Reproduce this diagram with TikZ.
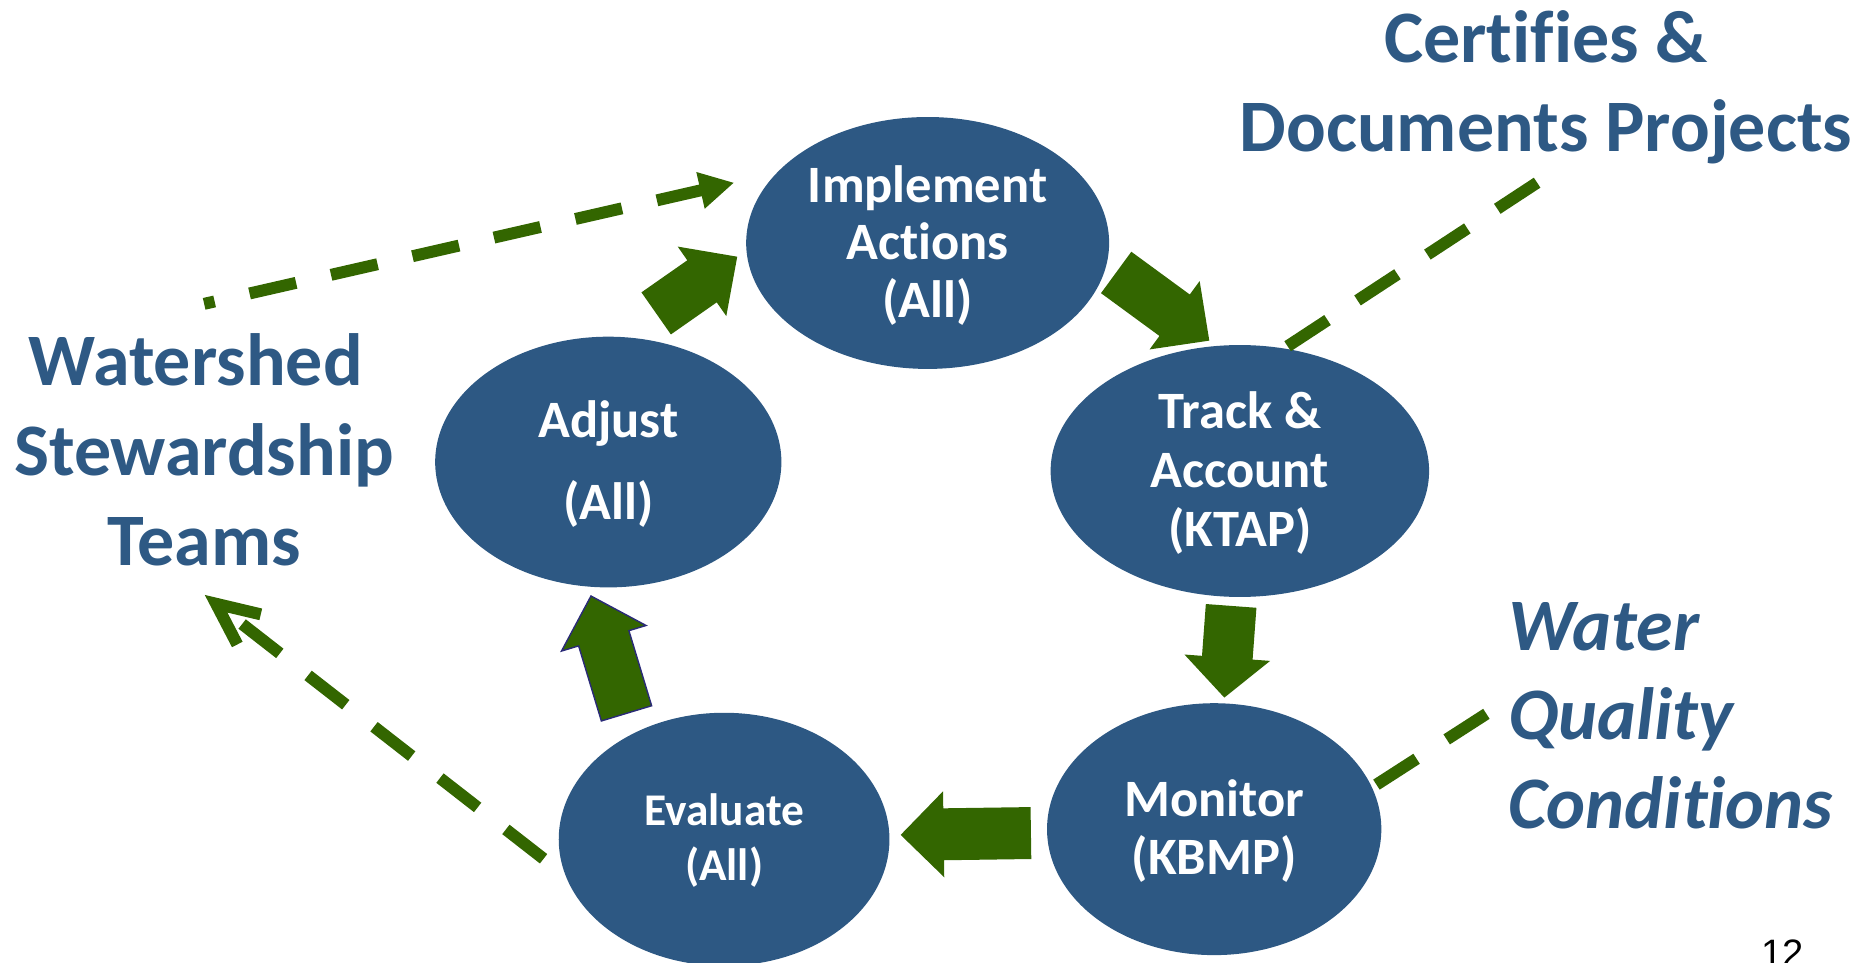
\documentclass[tikz,border=0pt]{standalone}
\usepackage{fontspec}
\setmainfont{Carlito}[Ligatures=NoCommon]
\newfontfamily\pagenumfont{Liberation Sans}
\usetikzlibrary{calc,shapes.geometric,arrows.meta}
\definecolor{cycblue}{HTML}{2D5883}
\definecolor{txtblue}{HTML}{2E5984}
\definecolor{arrgreen}{HTML}{336600}
\definecolor{outlinenavy}{HTML}{2A2A78}

% block arrow: [options]{start}{tip}{half shaft width}{half head width}{head length}
\newcommand\blockarrow[6][]{%
  \coordinate (bas) at (#2);
  \coordinate (bae) at (#3);
  \coordinate (bab) at ($(bae)!#6!(bas)$);
  \fill[arrgreen,#1] ($(bas)!#4!90:(bae)$) -- ($(bab)!#4!90:(bae)$) -- ($(bab)!#5!90:(bae)$)
     -- (bae) -- ($(bab)!#5!-90:(bae)$) -- ($(bab)!#4!-90:(bae)$) -- ($(bas)!#4!-90:(bae)$) -- cycle;
}
% move a text block down by half of #1 inside its node (shrinks its depth)
\newcommand\nudgedown[2]{\raisebox{0pt}[\height][\dimexpr\depth-#1\relax]{#2}}

\begin{document}
\begin{tikzpicture}[x=0.6pt,y=-0.6pt,
  cyc/.style={ellipse, fill=cycblue, text=white, inner sep=0pt},
  outer/.style={text=txtblue, inner sep=0pt},
  dashline/.style={draw=arrgreen, line width=6pt, dash pattern=on 24pt off 18pt},
]
\useasboundingbox (0,0) rectangle (1568,806);

% cycle ellipses
\node[cyc, minimum width=182.4pt, minimum height=126.6pt,
      font=\bfseries\fontsize{26.4}{29.1}\selectfont] (impl) at (777,203.5)
  {\nudgedown{5.4pt}{\begin{tabular}{@{}c@{}}Implement\\Actions\\(All)\end{tabular}}};
\node[cyc, minimum width=174pt, minimum height=126pt,
      font=\bfseries\fontsize{26.4}{41.2}\selectfont] (adj) at (509.5,387)
  {\begin{tabular}{@{}c@{}}Adjust\\(All)\end{tabular}};
\node[cyc, minimum width=190.2pt, minimum height=126.6pt,
      font=\bfseries\fontsize{26.4}{29.55}\selectfont] (track) at (1038.5,394.5)
  {\nudgedown{4.8pt}{\begin{tabular}{@{}c@{}}Track \&\\Account\\(KTAP)\end{tabular}}};
\node[cyc, minimum width=168pt, minimum height=126.6pt,
      font=\bfseries\fontsize{26.4}{29.3}\selectfont] (mon) at (1017,694.5)
  {\nudgedown{4.8pt}{\begin{tabular}{@{}c@{}}Monitor\\(KBMP)\end{tabular}}};
\node[cyc, minimum width=166.2pt, minimum height=127.2pt,
      font=\bfseries\fontsize{22.8}{27.6}\selectfont] (eval) at (606.5,703)
  {\nudgedown{2.4pt}{\begin{tabular}{@{}c@{}}Evaluate\\(All)\end{tabular}}};

% outer labels
\node[outer, font=\bfseries\fontsize{37.2}{44.7}\selectfont] (cert) at (1295,74.9)
  {\begin{tabular}{@{}c@{}}Certifies \&\\Documents Projects\end{tabular}};
\node[outer, font=\bfseries\fontsize{37.2}{45.1}\selectfont] (wst) at (171,381.1)
  {\nudgedown{2.4pt}{\begin{tabular}{@{}c@{}}Watershed\hspace*{0.226em}\\Stewardship\\Teams\end{tabular}}};
\node[outer, anchor=west, font=\bfseries\itshape\fontsize{37.2}{44.8}\selectfont] (wqc) at (1263,602.2)
  {\nudgedown{2.4pt}{\begin{tabular}{@{}l@{}}Water\\Quality\\Conditions\end{tabular}}};
\node[inner sep=0pt, anchor=base west, font=\pagenumfont\fontsize{19.2}{23}\selectfont] (pnum) at (1475,809.6) {12};

% dashed connectors
\coordinate (d1s) at (171,254.5);
\coordinate (d1e) at (615,153);
\draw[dashline, dash phase=18.6pt, -{Triangle[length=17.4pt,width=17.6pt]}] (d1s) -- (d1e);

\coordinate (d2s) at (455.3,719.3);
\coordinate (d2e) at (171.5,498.3);
\draw[dashline, -{Straight Barb[length=21pt,width=19.2pt]}] (d2s) -- (d2e);

\coordinate (d3s) at (1078.5,290);
\coordinate (d3e) at (1287.5,153);
\draw[dashline] (d3s) -- (d3e);

\coordinate (d4s) at (1152.9,657.2);
\coordinate (d4e) at (1245,597.9);
\draw[dashline] (d4s) -- (d4e);

% block arrows of the cycle
\coordinate (a1s) at (549.6,262.5);
\coordinate (a1e) at (617.5,215);
\blockarrow{a1s}{a1e}{12.9pt}{21.3pt}{21.6pt}

\coordinate (a2s) at (934.9,228.2);
\coordinate (a2e) at (1012.9,285.3);
\blockarrow{a2s}{a2e}{12.9pt}{21.3pt}{21.6pt}

\coordinate (a3s) at (1031.2,507.5);
\coordinate (a3e) at (1025.5,584.3);
\blockarrow{a3s}{a3e}{12.75pt}{21.6pt}{20.1pt}

\coordinate (a4s) at (863.5,697.75);
\coordinate (a4e) at (754.4,699.3);
\blockarrow{a4s}{a4e}{13.05pt}{21.6pt}{21.6pt}

\coordinate (a5s) at (524.75,597.5);
\coordinate (a5e) at (495,499.2);
\blockarrow[draw=outlinenavy,line width=0.7pt]{a5s}{a5e}{13.2pt}{22.2pt}{22.2pt}
\end{tikzpicture}
\end{document}
